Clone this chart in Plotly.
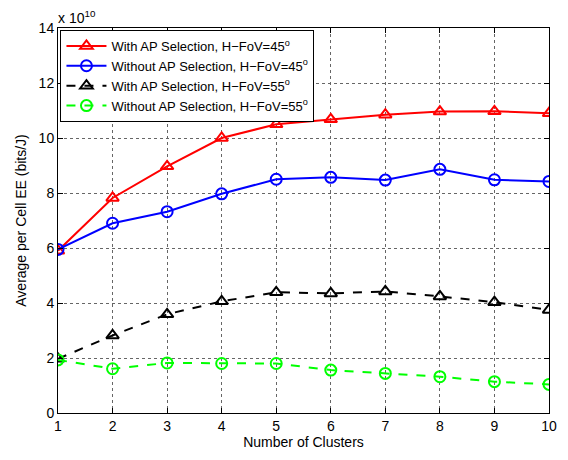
import plotly.graph_objects as go

clusters = [1, 2, 3, 4, 5, 6, 7, 8, 9, 10]
with_ap_45 = [5.9, 7.82, 8.97, 10.0, 10.5, 10.68, 10.85, 10.96, 10.97, 10.9]
without_ap_45 = [5.95, 6.9, 7.32, 7.97, 8.5, 8.57, 8.47, 8.86, 8.48, 8.42]
with_ap_55 = [1.97, 2.82, 3.59, 4.06, 4.39, 4.35, 4.42, 4.24, 4.03, 3.75]
without_ap_55 = [1.93, 1.61, 1.82, 1.80, 1.80, 1.56, 1.44, 1.32, 1.14, 1.04]

names = [
    "With AP Selection, H\u2212FoV=45<sup>o</sup>",
    "Without AP Selection, H\u2212FoV=45<sup>o</sup>",
    "With AP Selection, H\u2212FoV=55<sup>o</sup>",
    "Without AP Selection, H\u2212FoV=55<sup>o</sup>",
]

series = [with_ap_45, without_ap_45, with_ap_55, without_ap_55]
colors = ["#ff0000", "#0000ff", "#000000", "#00ff00"]
dashes = ["solid", "solid", "dash", "dash"]
symbols = ["triangle-up-open", "circle-open", "triangle-up-open", "circle-open"]

FONT = "Liberation Sans, Arial, sans-serif"

fig = go.Figure()
for ys, nm, c, d, s in zip(series, names, colors, dashes, symbols):
    fig.add_trace(go.Scatter(
        x=clusters, y=ys, name=nm, mode="lines+markers",
        line=dict(color=c, width=2, dash=d),
        marker=dict(symbol=s, size=11, color=c, line=dict(width=2, color=c)),
    ))

axis_common = dict(
    showline=True, linecolor="black", linewidth=1, mirror="ticks",
    ticks="inside", ticklen=5, tickcolor="black",
    showgrid=True, gridcolor="#666666", griddash="dot", gridwidth=1,
    zeroline=False,
    tickfont=dict(family=FONT, size=14, color="black"),
)

fig.update_xaxes(range=[1, 10], dtick=1,
                 title=dict(text="Number of Clusters", standoff=4,
                            font=dict(family=FONT, size=14, color="black")),
                 **axis_common)
fig.update_yaxes(range=[0, 14], dtick=2,
                 title=dict(text="Average per Cell EE (bits/J)", standoff=8,
                            font=dict(family=FONT, size=14, color="black")),
                 **axis_common)

fig.add_annotation(text="x 10<sup>10</sup>", xref="paper", yref="paper",
                   x=0, y=1.0, xanchor="left", yanchor="bottom", showarrow=False,
                   font=dict(family=FONT, size=14, color="black"),
                   xshift=-2)

fig.update_layout(
    width=568, height=460,
    margin=dict(l=58, r=19, t=28, b=47),
    paper_bgcolor="white", plot_bgcolor="white",
    showlegend=True,
    legend=dict(x=0.005, y=0.995, xanchor="left", yanchor="top",
                bgcolor="white", bordercolor="black", borderwidth=1,
                font=dict(family=FONT, size=13, color="black"),
                tracegroupgap=0, itemwidth=40),
)

fig.write_html("out.html")
